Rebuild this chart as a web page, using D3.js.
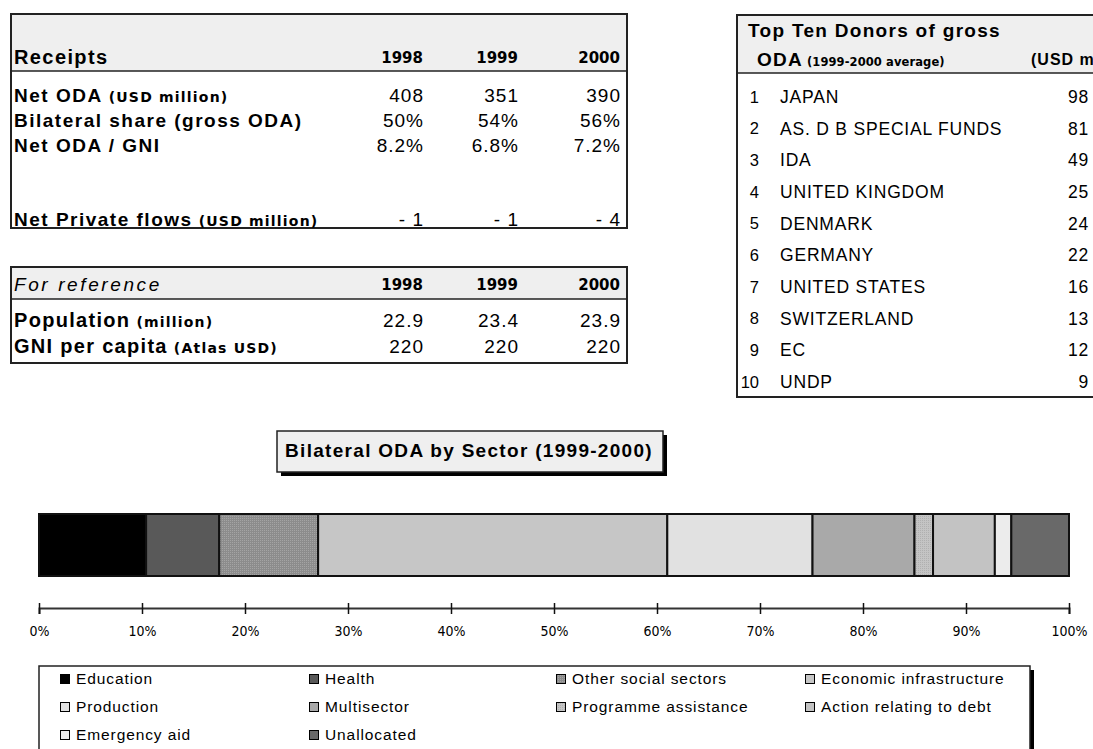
<!DOCTYPE html>
<html>
<head>
<meta charset="utf-8">
<script src="https://cdnjs.cloudflare.com/ajax/libs/d3/7.8.5/d3.min.js"></script>
<style>
  body { margin: 0; background: #fff; }
  svg { display: block; font-family: "Liberation Sans", Arial, sans-serif; }
</style>
</head>
<body>
<svg id="chart" width="1093" height="749"></svg>
<script>
// receipts table
const years = ["1998", "1999", "2000"];
const receiptLabels = [
  ["Net ODA", " (USD million)"],
  ["Bilateral share (gross ODA)", ""],
  ["Net ODA / GNI", ""],
  ["", ""],
  ["Net Private flows", " (USD million)"]
];
const receiptValues = [
  ["408", "351", "390"],
  ["50%", "54%", "56%"],
  ["8.2%", "6.8%", "7.2%"],
  ["", "", ""],
  ["- 1", "- 1", "- 4"]
];

// reference table
const refLabels = [
  ["Population", " (million)"],
  ["GNI per capita", " (Atlas USD)"]
];
const refValues = [
  ["22.9", "23.4", "23.9"],
  ["220", "220", "220"]
];

// top ten donors
const donors = ["JAPAN", "AS. D B SPECIAL FUNDS", "IDA", "UNITED KINGDOM", "DENMARK",
  "GERMANY", "UNITED STATES", "SWITZERLAND", "EC", "UNDP"];
const donorValues = [98, 81, 49, 25, 24, 22, 16, 13, 12, 9];

// sector bar
const sectors = ["Education", "Health", "Other social sectors", "Economic infrastructure",
  "Production", "Multisector", "Programme assistance", "Action relating to debt",
  "Emergency aid", "Unallocated"];
const sectorShares = [10.4, 7.1, 9.6, 33.9, 14.1, 9.9, 1.8, 6.0, 1.6, 5.6];
const sectorColors = ["#000000", "#595959", "url(#dots1)", "#c6c6c6", "#e1e1e1",
  "#a9a9a9", "url(#dots2)", "#c3c3c3", "#ececec", "#696969"];
const axisTicks = [0, 10, 20, 30, 40, 50, 60, 70, 80, 90, 100];

const svg = d3.select("#chart");
const SMALL = "DejaVu Sans, Verdana, sans-serif";

// dotted fills
const defs = svg.append("defs");
[["dots1", "#8c8c8c", "#a4a4a4"], ["dots2", "#c4c4c4", "#b0b0b0"]].forEach(p => {
  const pat = defs.append("pattern").attr("id", p[0])
    .attr("width", 2).attr("height", 2).attr("patternUnits", "userSpaceOnUse");
  pat.append("rect").attr("width", 2).attr("height", 2).attr("fill", p[1]);
  pat.append("rect").attr("width", 1).attr("height", 1).attr("fill", p[2]);
});
defs.append("clipPath").attr("id", "page")
  .append("rect").attr("width", 1093).attr("height", 749);

function labelText(g, x, y, parts, big, small, ls) {
  const t = g.append("text").attr("x", x).attr("y", y).attr("dy", "0.35em")
    .attr("font-weight", "bold").attr("font-size", big).attr("letter-spacing", ls)
    .attr("fill", "#000");
  t.append("tspan").text(parts[0]);
  if (parts[1]) t.append("tspan").attr("font-size", small).attr("font-family", SMALL)
    .attr("letter-spacing", 1.2).text(parts[1]);
  return t;
}

function valueText(g, x, y, v, size) {
  g.append("text").attr("x", x + 1).attr("y", y).attr("dy", "0.35em")
    .attr("text-anchor", "end").attr("font-size", size).attr("letter-spacing", 1).text(v);
}

// ---- receipts table ----
const colX = d3.scaleOrdinal().domain(years).range([423, 518, 620]);
const t1 = svg.append("g");
t1.append("rect").attr("x", 11).attr("y", 14).attr("width", 616).attr("height", 214)
  .attr("fill", "#fff").attr("stroke", "#222").attr("stroke-width", 2);
t1.append("rect").attr("x", 12).attr("y", 15).attr("width", 614).attr("height", 56).attr("fill", "#efefef");
t1.append("line").attr("x1", 11).attr("x2", 627).attr("y1", 71).attr("y2", 71)
  .attr("stroke", "#222").attr("stroke-width", 1.5);
t1.append("text").attr("x", 14).attr("y", 57).attr("dy", "0.35em")
  .attr("font-weight", "bold").attr("font-size", 20).attr("letter-spacing", 1.4).text("Receipts");
t1.selectAll(".yr").data(years).enter().append("text")
  .attr("x", d => colX(d)).attr("y", 58).attr("dy", "0.35em")
  .attr("text-anchor", "end").attr("font-weight", "bold").attr("font-size", 15)
  .attr("font-family", SMALL).text(d => d);
const rowY1 = i => (i < 3 ? 95 + i * 25 : 219);
receiptLabels.forEach((lab, i) => {
  if (!lab[0]) return;
  labelText(t1, 14, rowY1(i), lab, 19, 14, 1.5);
  receiptValues[i].forEach((v, j) => valueText(t1, colX(years[j]), rowY1(i), v, 19));
});

// ---- reference table ----
const t2 = svg.append("g");
t2.append("rect").attr("x", 11).attr("y", 267).attr("width", 616).attr("height", 96)
  .attr("fill", "#fff").attr("stroke", "#222").attr("stroke-width", 2);
t2.append("rect").attr("x", 12).attr("y", 268).attr("width", 614).attr("height", 31).attr("fill", "#efefef");
t2.append("line").attr("x1", 11).attr("x2", 627).attr("y1", 299).attr("y2", 299)
  .attr("stroke", "#222").attr("stroke-width", 1.5);
t2.append("text").attr("x", 14).attr("y", 284).attr("dy", "0.35em")
  .attr("font-style", "italic").attr("font-size", 19).attr("letter-spacing", 2.6).text("For reference");
t2.selectAll(".yr").data(years).enter().append("text")
  .attr("x", d => colX(d)).attr("y", 285).attr("dy", "0.35em")
  .attr("text-anchor", "end").attr("font-weight", "bold").attr("font-size", 15)
  .attr("font-family", SMALL).text(d => d);
refLabels.forEach((lab, i) => {
  const y = 320 + i * 26;
  labelText(t2, 14, y, lab, 20, 14, 1.3);
  refValues[i].forEach((v, j) => valueText(t2, colX(years[j]), y, v, 19));
});

// ---- donors table ----
const t3 = svg.append("g").attr("clip-path", "url(#page)");
t3.append("rect").attr("x", 737).attr("y", 15).attr("width", 400).attr("height", 382)
  .attr("fill", "#fff").attr("stroke", "#222").attr("stroke-width", 2);
t3.append("rect").attr("x", 738).attr("y", 16).attr("width", 398).attr("height", 57).attr("fill", "#efefef");
t3.append("line").attr("x1", 737).attr("x2", 1093).attr("y1", 73).attr("y2", 73)
  .attr("stroke", "#222").attr("stroke-width", 1.5);
t3.append("text").attr("x", 748).attr("y", 30).attr("dy", "0.35em")
  .attr("font-weight", "bold").attr("font-size", 19).attr("letter-spacing", 1.3)
  .text("Top Ten Donors of gross");
const oda = labelText(t3, 757, 59, ["ODA", " (1999-2000 average)"], 19, 11.5, 1.2);
oda.select("tspan:last-child").attr("letter-spacing", 0.1);
t3.append("text").attr("x", 1031).attr("y", 59).attr("dy", "0.35em")
  .attr("font-weight", "bold").attr("font-size", 16).attr("letter-spacing", 1)
  .text("(USD million)");
const donorY = d3.scalePoint().domain(d3.range(donors.length)).range([97, 382]);
donors.forEach((d, i) => {
  const y = donorY(i);
  t3.append("text").attr("x", 759).attr("y", y).attr("dy", "0.35em")
    .attr("text-anchor", "end").attr("font-size", 16.5).text(i + 1);
  t3.append("text").attr("x", 780).attr("y", y).attr("dy", "0.35em")
    .attr("font-size", 17.5).attr("letter-spacing", 0.8).text(d);
  t3.append("text").attr("x", 1089).attr("y", y).attr("dy", "0.35em")
    .attr("text-anchor", "end").attr("font-size", 17.5).attr("letter-spacing", 0.8).text(donorValues[i]);
});

// ---- title box ----
const tb = svg.append("g");
tb.append("rect").attr("x", 281).attr("y", 435).attr("width", 386).attr("height", 41).attr("fill", "#000");
tb.append("rect").attr("x", 277).attr("y", 431).attr("width", 386).attr("height", 41)
  .attr("fill", "#efefef").attr("stroke", "#222").attr("stroke-width", 1.5);
tb.append("text").attr("x", 469).attr("y", 450).attr("dy", "0.35em").attr("text-anchor", "middle")
  .attr("font-weight", "bold").attr("font-size", 19).attr("letter-spacing", 1.3)
  .text("Bilateral ODA by Sector (1999-2000)");

// ---- stacked bar ----
const x = d3.scaleLinear().domain([0, 100]).range([39, 1069]);
const starts = d3.cumsum([0].concat(sectorShares.slice(0, -1)));
const bar = svg.append("g");
bar.selectAll("rect").data(sectors).enter().append("rect")
  .attr("x", (d, i) => x(starts[i]))
  .attr("width", (d, i) => x(starts[i] + sectorShares[i]) - x(starts[i]))
  .attr("y", 514).attr("height", 62)
  .attr("fill", (d, i) => sectorColors[i])
  .attr("stroke", "#111").attr("stroke-width", 2);

const axis = svg.append("g").attr("transform", "translate(0,608)")
  .call(d3.axisBottom(x).tickValues(axisTicks).tickSizeOuter(0).tickSize(6)
    .tickFormat(d => d + "%"));
axis.select(".domain").attr("stroke", "#333").attr("stroke-width", 2);
axis.selectAll(".tick line").attr("y1", -5).attr("y2", 6).attr("stroke", "#111").attr("stroke-width", 1.5);
axis.selectAll(".tick text").attr("y", 18).attr("font-size", 14)
  .attr("font-family", "DejaVu Sans Condensed, Liberation Sans").attr("fill", "#000");

// ---- legend ----
const lg = svg.append("g");
lg.append("rect").attr("x", 1030).attr("y", 670).attr("width", 4).attr("height", 90).attr("fill", "#000");
lg.append("rect").attr("x", 39).attr("y", 666).attr("width", 991).attr("height", 100)
  .attr("fill", "#fff").attr("stroke", "#222").attr("stroke-width", 1.5);
const legCol = d3.scaleOrdinal().domain([0, 1, 2, 3]).range([60, 309, 556, 805]);
const legRow = d3.scaleOrdinal().domain([0, 1, 2]).range([679, 707, 735]);
const item = lg.selectAll(".item").data(sectors).enter().append("g")
  .attr("transform", (d, i) => `translate(${legCol(i % 4)},${legRow(Math.floor(i / 4))})`);
item.append("rect").attr("x", 0.5).attr("y", -4.5).attr("width", 9).attr("height", 9)
  .attr("fill", (d, i) => sectorColors[i]).attr("stroke", "#000").attr("stroke-width", 1);
item.append("text").attr("x", 16).attr("dy", "0.35em").attr("font-size", 15.5)
  .attr("letter-spacing", 0.9).text(d => d);
</script>
</body>
</html>
